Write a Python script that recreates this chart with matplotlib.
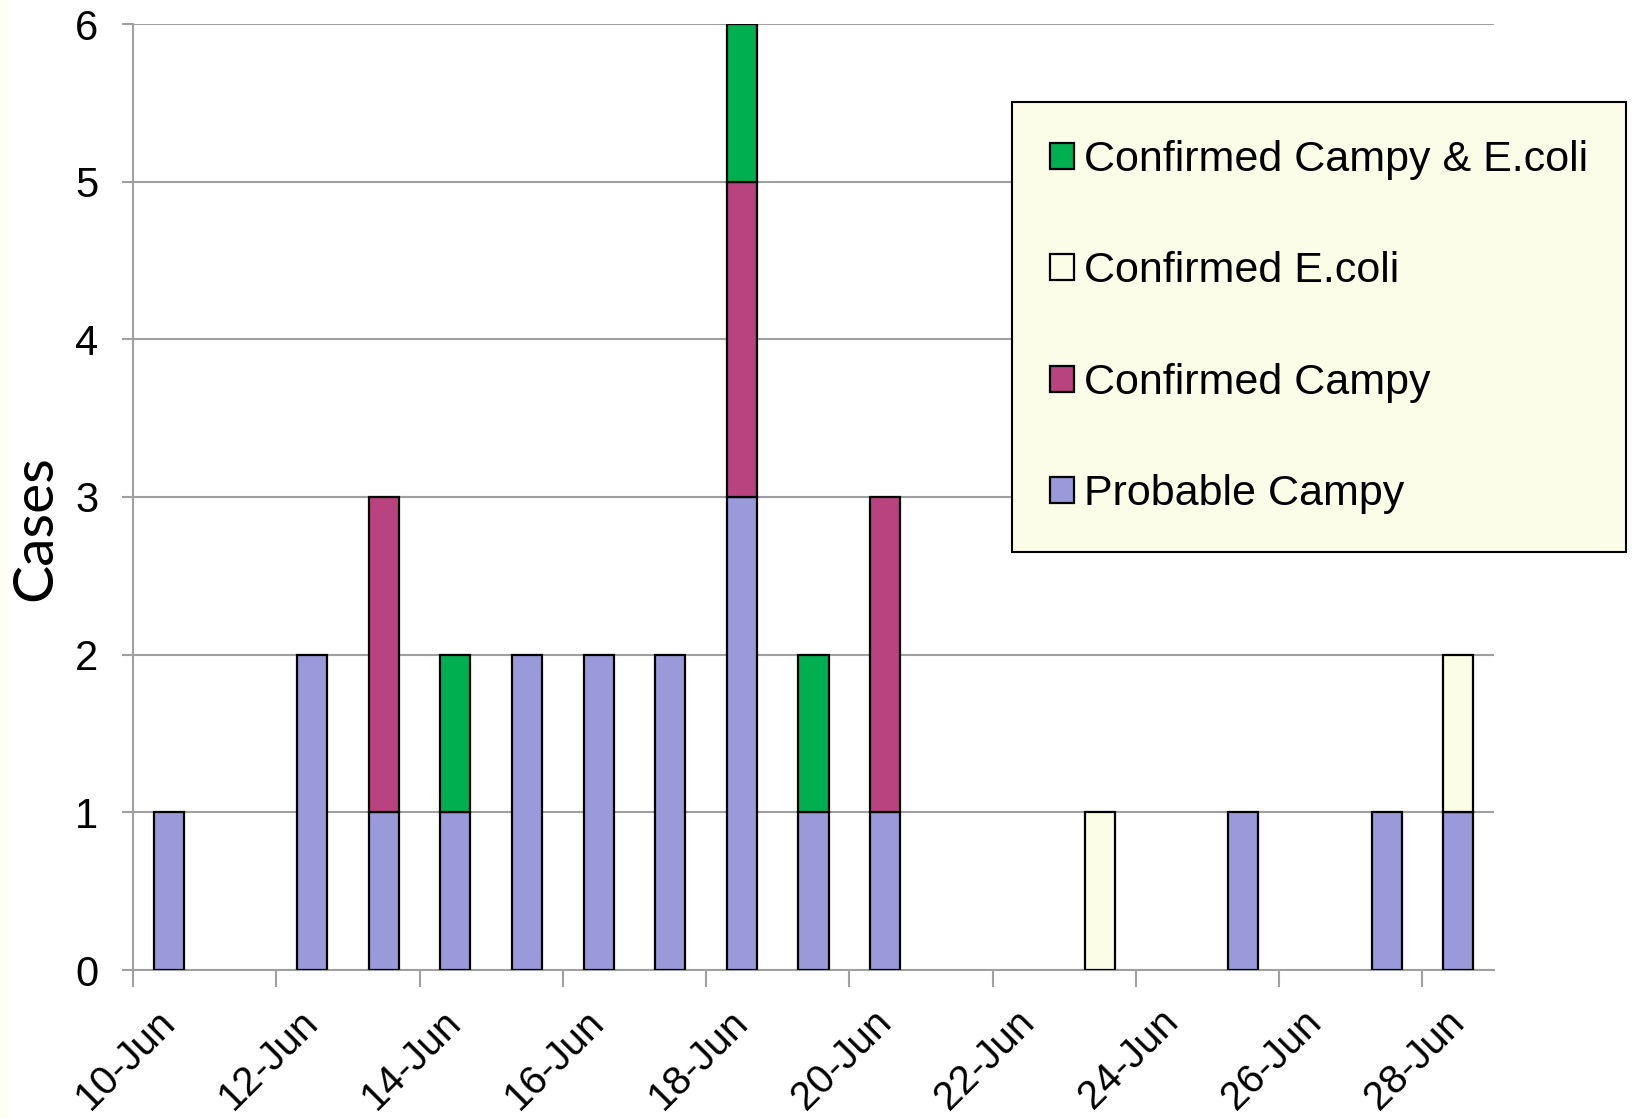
import matplotlib
matplotlib.use("Agg")
import matplotlib.pyplot as plt
import numpy as np

dates = ["10-Jun", "11-Jun", "12-Jun", "13-Jun", "14-Jun", "15-Jun", "16-Jun",
         "17-Jun", "18-Jun", "19-Jun", "20-Jun", "21-Jun", "22-Jun", "23-Jun",
         "24-Jun", "25-Jun", "26-Jun", "27-Jun", "28-Jun"]
probable_campy = [1, 0, 2, 1, 1, 2, 2, 2, 3, 1, 1, 0, 0, 0, 0, 1, 0, 1, 1]
confirmed_campy = [0, 0, 0, 2, 0, 0, 0, 0, 2, 0, 2, 0, 0, 0, 0, 0, 0, 0, 0]
confirmed_ecoli = [0, 0, 0, 0, 0, 0, 0, 0, 0, 0, 0, 0, 0, 1, 0, 0, 0, 0, 1]
confirmed_both = [0, 0, 0, 0, 1, 0, 0, 0, 1, 1, 0, 0, 0, 0, 0, 0, 0, 0, 0]

series = [
    ("Probable Campy", probable_campy, "#9A9ADB"),
    ("Confirmed Campy", confirmed_campy, "#B8437E"),
    ("Confirmed E.coli", confirmed_ecoli, "#FBFDE6"),
    ("Confirmed Campy & E.coli", confirmed_both, "#00B050"),
]

W, H = 1632, 1118
fig = plt.figure(figsize=(W / 100, H / 100), dpi=100)
fig.patch.set_facecolor("white")
fig.patches.append(plt.Rectangle((0, 0), 7 / W, 1, transform=fig.transFigure,
                                 facecolor="#FEFEF4", edgecolor="none"))

ax = fig.add_axes([133 / W, (H - 970) / H, 1361 / W, 946 / H])

x = np.arange(len(dates))
bottom = np.zeros(len(dates))
handles = []
for name, vals, col in series:
    vals = np.array(vals, dtype=float)
    m = vals > 0
    b = ax.bar(x[m], vals[m], width=0.42, bottom=bottom[m], color=col,
               edgecolor="black", linewidth=1.6, label=name, zorder=3)
    bottom += vals
    handles.append(b)

ax.set_xlim(-0.5, len(dates) - 0.5)
ax.set_ylim(0, 6)
ax.set_yticks(range(0, 7))
ax.yaxis.grid(True, color="#A0A0A0", linewidth=1.5, zorder=0)
ax.set_axisbelow(True)

for s in ["top", "right"]:
    ax.spines[s].set_visible(False)
for s in ["left", "bottom"]:
    ax.spines[s].set_color("#A0A0A0")
    ax.spines[s].set_linewidth(1.5)

font = "Liberation Sans"
ax.tick_params(axis="y", length=8, width=1.5, color="#A0A0A0", pad=17,
               labelsize=30, labelfontfamily=font)
ax.set_xticks(np.arange(-0.5, len(dates), 2))
ax.set_xticklabels([])
ax.tick_params(axis="x", which="major", length=12, width=1.5, color="#A0A0A0")
ax.set_xticks(x[::2], minor=True)
ax.set_xticklabels(dates[::2], minor=True, rotation=45, ha="right", va="center",
                   rotation_mode="anchor", fontsize=29, family=font)
ax.tick_params(axis="x", which="minor", length=0, pad=33)

fig.text(36 / W, 1 - 528 / H, "Cases", rotation=90, ha="center", va="center",
         fontsize=41, family="Lato")

leg = fig.legend(handles[::-1], [s[0] for s in series][::-1],
                 loc="upper left", bbox_to_anchor=(1012 / W, 1 - 102 / H),
                 frameon=True, fancybox=False,
                 prop={"family": font, "size": 31},
                 handlelength=0.55, handleheight=0.55, handletextpad=0.25,
                 labelspacing=1.66, borderpad=0.88, borderaxespad=0)
frame = leg.get_frame()
frame.set_facecolor("#FBFDE8")
frame.set_edgecolor("black")
frame.set_linewidth(1.5)
frame.set_alpha(1)

fig.savefig("out.png", dpi=100)
